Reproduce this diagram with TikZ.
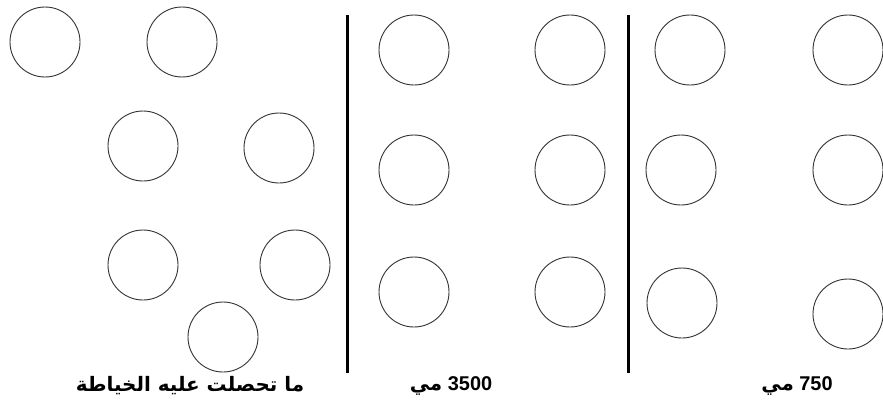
\documentclass[tikz,border=0pt]{standalone}
\usepackage{fontspec}
\setmainfont{Liberation Sans}
\newfontfamily\arabicfont[Script=Arabic]{DejaVu Sans}
\TeXXeTstate=1
\tikzset{
  drop/.style={circle,draw=black!80,line width=0.9bp,minimum size=70bp,inner sep=0pt},
  divider/.style={black,line width=3bp},
  caption/.style={font=\fontsize{20}{24}\selectfont\bfseries}
}
\begin{document}
\begin{tikzpicture}[x=1bp,y=1bp]
  \path[use as bounding box] (0,0) rectangle (883,410);
  \fill[white] (0,0) rectangle (883,410);

  % left panel
  \node[drop] (l1) at (45,368) {};
  \node[drop] (l2) at (182,368) {};
  \node[drop] (l3) at (143,264) {};
  \node[drop] (l4) at (279,262) {};
  \node[drop] (l5) at (143,145) {};
  \node[drop] (l6) at (295,145) {};
  \node[drop] (l7) at (223,73) {};

  % middle panel
  \node[drop] (m1) at (414,360) {};
  \node[drop] (m2) at (570,360) {};
  \node[drop] (m3) at (414,240) {};
  \node[drop] (m4) at (570,240) {};
  \node[drop] (m5) at (414,118) {};
  \node[drop] (m6) at (570,118) {};

  % right panel
  \node[drop] (r1) at (690,360) {};
  \node[drop] (r2) at (848,360) {};
  \node[drop] (r3) at (681,240) {};
  \node[drop] (r4) at (848,240) {};
  \node[drop] (r5) at (682,107) {};
  \node[drop] (r6) at (848,96) {};

  % dividers
  \coordinate (d1top) at (347,395);
  \coordinate (d1bot) at (347,37);
  \coordinate (d2top) at (628,395);
  \coordinate (d2bot) at (628,37);
  \draw[divider] (d1top) -- (d1bot);
  \draw[divider] (d2top) -- (d2bot);

  \node[caption] (capl) at (190,24) {\arabicfont\beginR ما تحصلت عليه الخياطة\endR};
  \node[caption] (capm) at (451,24) {\beginR\beginL 3500\endL{} {\arabicfont مي}\endR};
  \node[caption] (capr) at (797,24) {\beginR\beginL 750\endL{} {\arabicfont مي}\endR};
\end{tikzpicture}
\end{document}
